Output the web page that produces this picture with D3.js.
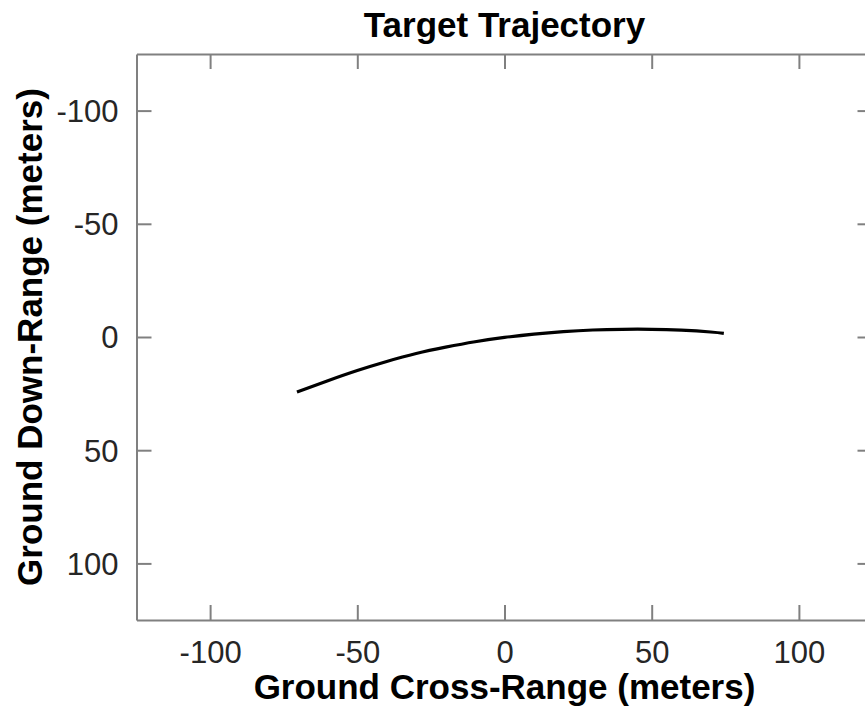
<!DOCTYPE html>
<html>
<head>
<meta charset="utf-8">
<script src="https://cdn.jsdelivr.net/npm/d3@7"></script>
<style>
  html, body { margin: 0; padding: 0; background: #fff; }
  svg { display: block; }
</style>
</head>
<body>
<script>
// ---- Data ----
const crossRange = [-70.5, -60, -50, -40, -30, -20, -10, 0, 10, 20, 30, 40, 50, 60, 70, 74.5];
const downRange  = [24.3, 19.3, 14.8, 10.8, 7.3, 4.5, 2.1, 0.2, -1.3, -2.4, -3.1, -3.4, -3.4, -3.0, -2.2, -1.6];
const xTicks = [-100, -50, 0, 50, 100];
const yTicks = [-100, -50, 0, 50, 100];
const xDomain = [-125, 125];
const yDomain = [-125, 125];
const titleText = "Target Trajectory";
const xLabelText = "Ground Cross-Range (meters)";
const yLabelText = "Ground Down-Range (meters)";

// ---- Layout ----
const W = 865, H = 723;
const mLeft = 136.5, mRight = 872.5, mTop = 54, mBottom = 620;
const FONT = "'Liberation Sans', Arial, Helvetica, sans-serif";
const axisColor = "#808080";
const tickTextColor = "#262626";
const fmt = d => String(d); // plain hyphen-minus like the reference

const svg = d3.select("body").append("svg")
  .attr("width", W).attr("height", H)
  .style("background", "#fff");

const x = d3.scaleLinear().domain(xDomain).range([mLeft, mRight]);
const y = d3.scaleLinear().domain(yDomain).range([mTop, mBottom]);

function styleAxis(g) {
  g.select(".domain").attr("stroke", axisColor).attr("stroke-width", 2);
  g.selectAll(".tick line").attr("stroke", axisColor).attr("stroke-width", 2);
  g.selectAll(".tick text")
    .attr("fill", tickTextColor)
    .style("font-family", FONT)
    .style("font-size", "31px");
}

// bottom axis
svg.append("g")
  .attr("transform", `translate(0,${mBottom})`)
  .call(d3.axisBottom(x).tickValues(xTicks).tickFormat(fmt).tickSize(-15).tickSizeOuter(0).tickPadding(21))
  .call(styleAxis);

// top axis
svg.append("g")
  .attr("transform", `translate(0,${mTop})`)
  .call(d3.axisTop(x).tickValues(xTicks).tickSize(-15).tickSizeOuter(0).tickFormat(""))
  .call(styleAxis);

// left axis
svg.append("g")
  .attr("transform", `translate(${mLeft},0)`)
  .call(d3.axisLeft(y).tickValues(yTicks).tickFormat(fmt).tickSize(-15).tickSizeOuter(0).tickPadding(18))
  .call(styleAxis)
  .call(g => g.selectAll(".tick text").attr("dy", "0.35em"));

// right axis
svg.append("g")
  .attr("transform", `translate(${mRight},0)`)
  .call(d3.axisRight(y).tickValues(yTicks).tickSize(-15).tickSizeOuter(0).tickFormat(""))
  .call(styleAxis);

// trajectory line
const pts = crossRange.map((cx, i) => [cx, downRange[i]]);
svg.append("path")
  .datum(pts)
  .attr("fill", "none")
  .attr("stroke", "#000")
  .attr("stroke-width", 3.2)
  .attr("stroke-linejoin", "round")
  .attr("d", d3.line().x(d => x(d[0])).y(d => y(d[1])).curve(d3.curveNatural));

// title
svg.append("text")
  .attr("x", (mLeft + mRight) / 2).attr("y", 37)
  .attr("text-anchor", "middle")
  .style("font-family", FONT).style("font-size", "35px").style("font-weight", "bold")
  .attr("fill", "#000")
  .text(titleText);

// x label
svg.append("text")
  .attr("x", (mLeft + mRight) / 2).attr("y", 699)
  .attr("text-anchor", "middle")
  .style("font-family", FONT).style("font-size", "35px").style("font-weight", "bold")
  .attr("fill", "#000")
  .text(xLabelText);

// y label
svg.append("text")
  .attr("transform", `translate(42,${(mTop + mBottom) / 2}) rotate(-90)`)
  .attr("text-anchor", "middle")
  .style("font-family", FONT).style("font-size", "35px").style("font-weight", "bold")
  .attr("fill", "#000")
  .text(yLabelText);
</script>
</body>
</html>
